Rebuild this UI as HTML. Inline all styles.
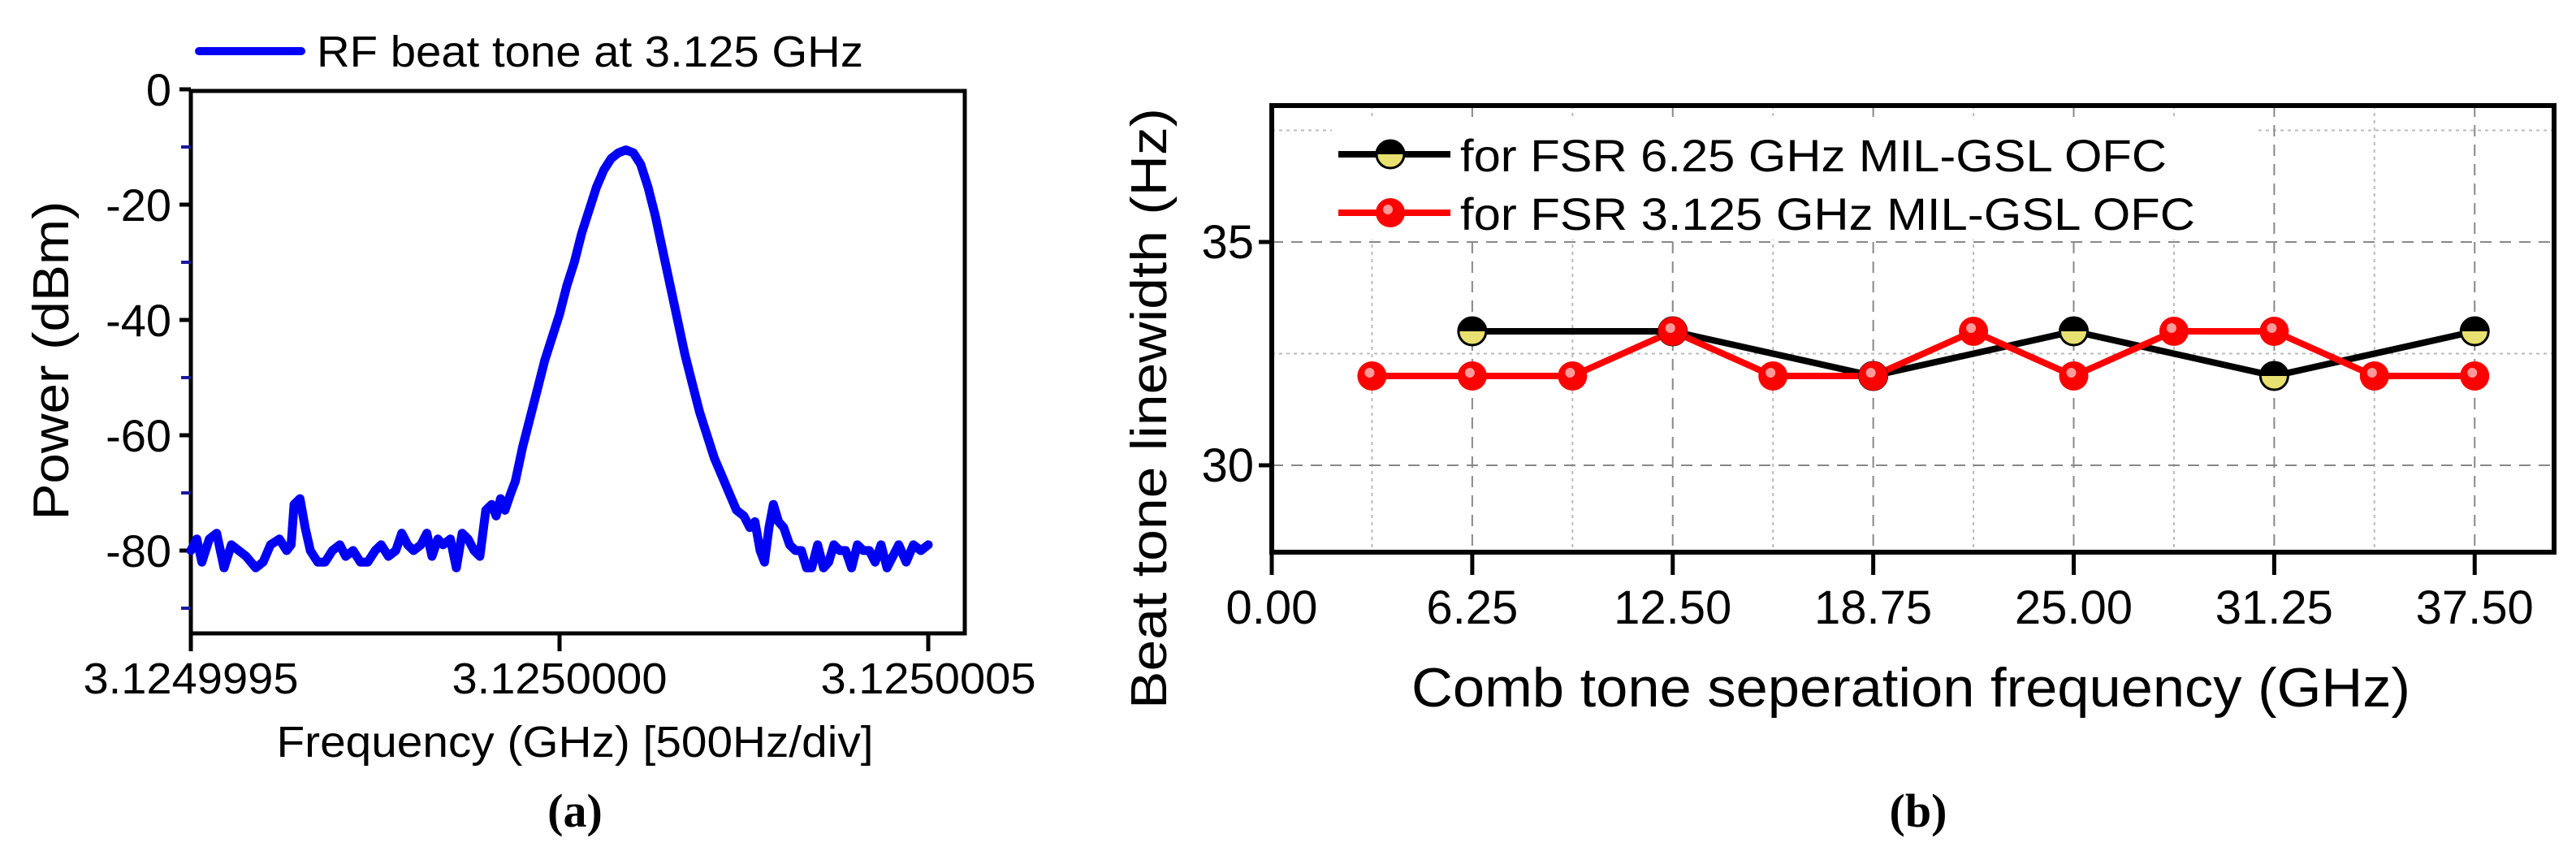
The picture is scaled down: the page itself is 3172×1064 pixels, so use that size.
<!DOCTYPE html>
<html><head><meta charset="utf-8"><style>
html,body{margin:0;padding:0;background:#fff;}
svg{display:block;font-family:"Liberation Sans",sans-serif;}
</style></head><body>
<svg id="fig" width="3172" height="1064" viewBox="0 0 3172 1064" xmlns="http://www.w3.org/2000/svg">
<g id="pa"></g>
<g id="pb"></g>
</svg>
<script>
// Panel (a) data: frequency offset from 3.125 GHz (Hz) and power (dBm)
const specFreq = [-500,-492,-485,-475,-465,-455,-445,-435,-425,-412,-402,-392,-380,-370,-364,-360,-352,-345,-338,-328,-318,-308,-298,-290,-280,-270,-260,-250,-242,-232,-222,-214,-206,-198,-188,-180,-173,-165,-158,-148,-140,-132,-124,-116,-108,-100,-92,-86,-80,-74,-66,-60,-50,-40,-30,-20,-10,0,10,20,30,40,50,60,70,80,90,100,110,120,130,140,150,160,170,180,190,200,210,220,230,240,250,258,265,272,278,284,290,297,304,312,320,328,335,342,350,358,365,372,380,388,396,404,412,420,428,436,444,452,460,470,480,490,500];
const specPower = [-80,-78,-82,-78,-77,-83,-79,-80,-81,-83,-82,-79,-78,-80,-79,-72,-71,-76,-80,-82,-82,-80,-79,-81,-80,-82,-82,-80,-79,-81,-80,-77,-79,-80,-79,-77,-81,-78,-79,-78,-83,-77,-78,-80,-81,-73,-72,-74,-71,-73,-70,-68,-62,-57,-52,-47,-43,-39,-34,-30,-25,-21,-17,-14,-12,-11,-10.5,-11,-13,-17,-22,-28,-34,-40,-46,-51,-56,-60,-64,-67,-70,-73,-74,-76,-75,-80,-82,-76,-72,-75,-76,-79,-80,-80,-83,-83,-79,-83,-82,-79,-80,-80,-83,-79,-80,-80,-82,-79,-83,-81,-79,-82,-79,-80,-79];
const aYTicks = [0,-20,-40,-60,-80];
const aYMinor = [-10,-30,-50,-70,-90];
const aXTicks = [-500,0,500];
const aXLabels = ["3.1249995","3.1250000","3.1250005"];

// Panel (b) data
const bXTicks = [0,6.25,12.5,18.75,25,31.25,37.5];
const bXLabels = ["0.00","6.25","12.50","18.75","25.00","31.25","37.50"];
const bYTicks = [30,35];
const bXMinor = [3.125,9.375,15.625,21.875,28.125,34.375];
const bYMinor = [32.5,37.5];
const fsr625X = [6.25,12.5,18.75,25,31.25,37.5];
const fsr625Y = [33,33,32,33,32,33];
const fsr3125X = [3.125,6.25,9.375,12.5,15.625,18.75,21.875,25,28.125,31.25,34.375,37.5];
const fsr3125Y = [32,32,32,33,32,32,33,32,33,33,32,32];

const NS="http://www.w3.org/2000/svg";
function mk(parent,tag,attrs,text){const e=document.createElementNS(NS,tag);for(const k in attrs)e.setAttribute(k,attrs[k]);if(text!==undefined)e.textContent=text;parent.appendChild(e);return e;}

// ---------- Panel A ----------
const pa=document.getElementById('pa');
const aL=235,aR=1188,aT=112,aB=780;
const ax=f=>689+(f)*0.908;
const ay=p=>110+(-p)*7.1;
let fr=mk(pa,'rect',{x:aL,y:aT,width:aR-aL,height:aB-aT,fill:'none',stroke:'#000','stroke-width':5});


aYTicks.forEach(v=>{
  let t=mk(pa,'line',{x1:aL-14,x2:aL,y1:ay(v),y2:ay(v),stroke:'#000','stroke-width':5});
  
  
  let l=mk(pa,'text',{x:aL-24,y:ay(v)+20,'font-size':56,'text-anchor':'end'},String(v));
  
  
});
aYMinor.forEach(v=>{
  let t=mk(pa,'line',{x1:aL-12,x2:aL,y1:ay(v),y2:ay(v),stroke:'#1a1a9a','stroke-width':4});
  
  
});
aXTicks.forEach((v,i)=>{
  let t=mk(pa,'line',{x1:ax(v),x2:ax(v),y1:aB,y2:aB+22,stroke:'#000','stroke-width':5});
  
  
  let l=mk(pa,'text',{x:ax(v),y:aB+74,'font-size':54,'text-anchor':'middle',textLength:265,lengthAdjust:'spacingAndGlyphs'},aXLabels[i]);
  
  
});
let pts=specFreq.map((f,i)=>ax(f).toFixed(1)+','+ay(specPower[i]).toFixed(1)).join(' ');
let sp=mk(pa,'polyline',{points:pts,fill:'none',stroke:'#0000f5','stroke-width':11,'stroke-linejoin':'round','stroke-linecap':'round'});


let lg=mk(pa,'line',{x1:245,x2:371,y1:63,y2:63,stroke:'#0000f5','stroke-width':10,'stroke-linecap':'round'});


let lt=mk(pa,'text',{x:390,y:82,'font-size':54,textLength:673,lengthAdjust:'spacingAndGlyphs'},'RF beat tone at 3.125 GHz');


let yl=mk(pa,'text',{x:0,y:0,'font-size':62,'text-anchor':'middle',textLength:393,lengthAdjust:'spacingAndGlyphs',transform:'translate(84,444) rotate(-90)'},'Power (dBm)');


let xl=mk(pa,'text',{x:708,y:932,'font-size':54,'text-anchor':'middle',textLength:735,lengthAdjust:'spacingAndGlyphs'},'Frequency (GHz) [500Hz/div]');


let ca=mk(pa,'text',{x:708,y:1018,'font-size':58,'font-weight':'bold','text-anchor':'middle','font-family':'Liberation Serif, serif'},'(a)');



// ---------- Panel B ----------
const pb=document.getElementById('pb');
const bL=1566,bR=3145,bT=130,bB=680;
const bx=v=>1566+v*39.5;
const by=v=>573-(v-30)*55;
bXMinor.forEach(v=>{
  let g=mk(pb,'line',{x1:bx(v),x2:bx(v),y1:bT,y2:bB,stroke:'#bbb','stroke-width':2,'stroke-dasharray':'4 5'});
  
  
});
bYMinor.forEach(v=>{
  let g=mk(pb,'line',{x1:bL,x2:bR,y1:by(v),y2:by(v),stroke:'#bbb','stroke-width':2,'stroke-dasharray':'4 5'});
  
  
});
bXTicks.slice(1).forEach(v=>{
  let g=mk(pb,'line',{x1:bx(v),x2:bx(v),y1:bT,y2:bB,stroke:'#888','stroke-width':2,'stroke-dasharray':'14 10'});
  
  
});
bYTicks.forEach(v=>{
  let g=mk(pb,'line',{x1:bL,x2:bR,y1:by(v),y2:by(v),stroke:'#888','stroke-width':2,'stroke-dasharray':'14 10'});
  
  
});
let lbg=mk(pb,'rect',{x:1640,y:145,width:1140,height:150,fill:'#fff'});


let fb=mk(pb,'rect',{x:bL,y:bT,width:bR-bL,height:bB-bT,fill:'none',stroke:'#000','stroke-width':6});


bXTicks.forEach((v,i)=>{
  let t=mk(pb,'line',{x1:bx(v),x2:bx(v),y1:bB,y2:bB+28,stroke:'#000','stroke-width':5});
  
  
  let l=mk(pb,'text',{x:bx(v),y:bB+88,'font-size':58,'text-anchor':'middle'},bXLabels[i]);
  
  
});
bYTicks.forEach(v=>{
  let t=mk(pb,'line',{x1:bL-16,x2:bL,y1:by(v),y2:by(v),stroke:'#000','stroke-width':5});
  
  
  let l=mk(pb,'text',{x:bL-22,y:by(v)+20,'font-size':58,'text-anchor':'end'},String(v));
  
  
});
function series(xs,ys,color,name){
  let p=mk(pb,'polyline',{points:xs.map((x,i)=>bx(x)+','+by(ys[i])).join(' '),fill:'none',stroke:color,'stroke-width':8,'stroke-linejoin':'round'});
  
  
}
function blackMarker(cx,cy,nm){
  let g=mk(pb,'g',{});
  
  
  mk(g,'circle',{cx:cx,cy:cy,r:17,fill:'#e8e070',stroke:'#000','stroke-width':3});
  mk(g,'path',{d:`M${cx-17},${cy} A17,17 0 0 1 ${cx+17},${cy} Z`,fill:'#000'});
}
function redMarker(cx,cy,nm){
  let g=mk(pb,'g',{});
  
  
  mk(g,'circle',{cx:cx,cy:cy,r:18,fill:'#ff0000'});
  mk(g,'circle',{cx:cx-3,cy:cy-4,r:6,fill:'#ff9a9a'});
}
series(fsr625X,fsr625Y,'#000','fsr-6-25');
series(fsr3125X,fsr3125Y,'#ff0000','fsr-3-125');
fsr625X.forEach((x,i)=>blackMarker(bx(x),by(fsr625Y[i]),'fsr-6-25-point'));
fsr3125X.forEach((x,i)=>redMarker(bx(x),by(fsr3125Y[i]),'fsr-3-125-point'));
let l1=mk(pb,'line',{x1:1648,x2:1786,y1:190,y2:190,stroke:'#000','stroke-width':8});


blackMarker(1712,190,'legend-marker-fsr-6-25');
let t1=mk(pb,'text',{x:1798,y:211,'font-size':56,textLength:870,lengthAdjust:'spacingAndGlyphs'},'for FSR 6.25 GHz MIL-GSL OFC');


let l2=mk(pb,'line',{x1:1648,x2:1786,y1:262,y2:262,stroke:'#ff0000','stroke-width':8});


redMarker(1712,262,'legend-marker-fsr-3-125');
let t2=mk(pb,'text',{x:1798,y:283,'font-size':56,textLength:905,lengthAdjust:'spacingAndGlyphs'},'for FSR 3.125 GHz MIL-GSL OFC');


let yb=mk(pb,'text',{x:0,y:0,'font-size':62,'text-anchor':'middle',textLength:740,lengthAdjust:'spacingAndGlyphs',transform:'translate(1436,503) rotate(-90)'},'Beat tone linewidth (Hz)');


let xb=mk(pb,'text',{x:2353,y:870,'font-size':68,'text-anchor':'middle',textLength:1230,lengthAdjust:'spacingAndGlyphs'},'Comb tone seperation frequency (GHz)');


let cb=mk(pb,'text',{x:2362,y:1018,'font-size':58,'font-weight':'bold','text-anchor':'middle','font-family':'Liberation Serif, serif'},'(b)');


</script>
</body></html>
